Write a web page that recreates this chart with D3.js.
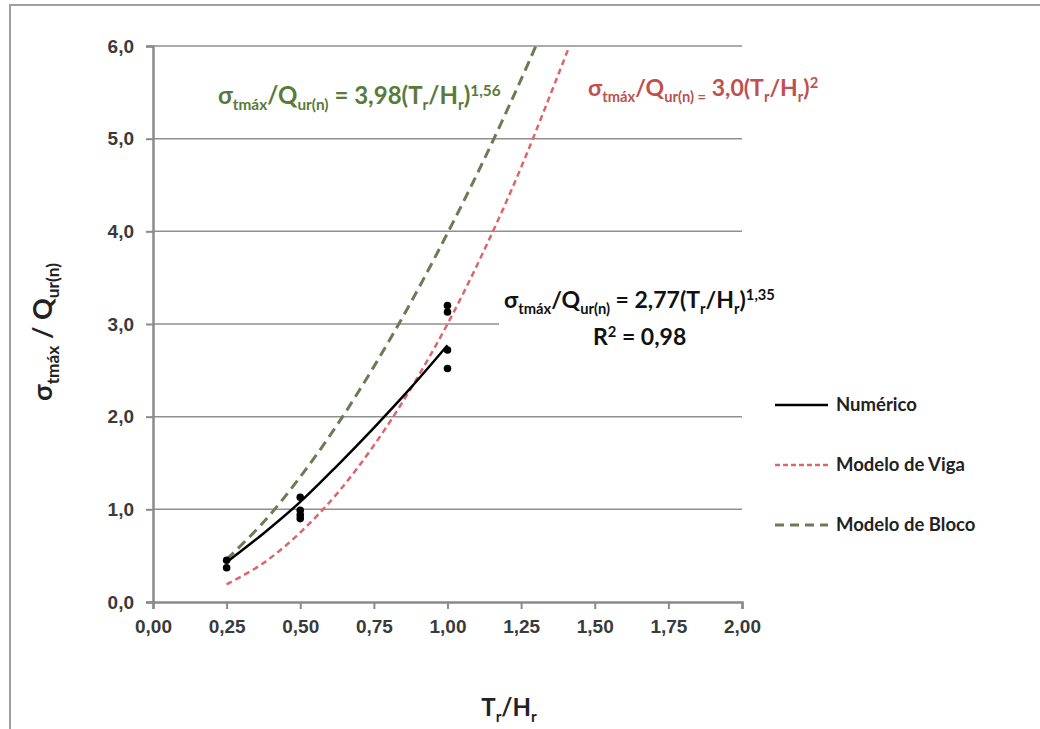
<!DOCTYPE html>
<html>
<head>
<meta charset="utf-8">
<script src="https://cdn.jsdelivr.net/npm/d3@7"></script>
<style>
  body { margin: 0; background: #fff; }
  svg { font-family: Lato, "Open Sans", sans-serif; }
</style>
</head>
<body>
<div id="chart"></div>
<script>
// valores
const xTicks = [0, 0.25, 0.5, 0.75, 1.0, 1.25, 1.5, 1.75, 2.0];
const yTicks = [0, 1, 2, 3, 4, 5, 6];

const pontosX = [0.25, 0.25, 0.5, 0.5, 0.5, 0.5, 1.0, 1.0, 1.0, 1.0];
const pontosY = [0.37, 0.45, 1.13, 0.99, 0.94, 0.90, 3.20, 3.13, 2.72, 2.52];

const numX = [0.25, 0.375, 0.5, 0.625, 0.75, 0.875, 1.0];
const numY = [0.43, 0.74, 1.08, 1.47, 1.88, 2.31, 2.77];

const vigaX = [0.25, 0.375, 0.5, 0.625, 0.75, 0.875, 1.0, 1.125, 1.25, 1.414];
const vigaY = [0.19, 0.42, 0.75, 1.17, 1.69, 2.30, 3.0, 3.80, 4.69, 6.0];

const blocoX = [0.25, 0.375, 0.5, 0.625, 0.75, 0.875, 1.0, 1.125, 1.25, 1.30];
const blocoY = [0.46, 0.86, 1.35, 1.91, 2.54, 3.23, 3.98, 4.78, 5.64, 6.0];

const legenda = ["Numérico", "Modelo de Viga", "Modelo de Bloco"];

const W = 1040, H = 729;
const margin = { left: 153, top: 46, right: 298, bottom: 127 };
const width = W - margin.left - margin.right,
      height = H - margin.top - margin.bottom;

const svg = d3.select("#chart").append("svg")
    .attr("width", W).attr("height", H);

// moldura
svg.append("rect")
    .attr("x", 10).attr("y", 5)
    .attr("width", W + 20).attr("height", H + 20)
    .attr("fill", "none").attr("stroke", "#a0a0a0").attr("stroke-width", 2);

const g = svg.append("g").attr("transform", `translate(${margin.left},${margin.top})`);

const x = d3.scaleLinear().domain([0, 2]).range([0, width]);
const y = d3.scaleLinear().domain([0, 6]).range([height, 0]);

// grade
g.selectAll(".grid").data(yTicks.filter(d => d > 0)).enter()
    .append("line")
    .attr("x1", 0).attr("x2", width)
    .attr("y1", d => y(d)).attr("y2", d => y(d))
    .attr("stroke", "#8f8f8f").attr("stroke-width", 1.5);

// eixos
const xAxis = g.append("g")
    .attr("transform", `translate(0,${height})`)
    .call(d3.axisBottom(x).tickValues(xTicks).tickSize(7).tickPadding(11)
        .tickFormat(d => d3.format(".2f")(d).replace(".", ",")));
const yAxis = g.append("g")
    .call(d3.axisLeft(y).tickValues(yTicks).tickSize(7).tickPadding(12)
        .tickFormat(d => d3.format(".1f")(d).replace(".", ",")));

[xAxis, yAxis].forEach(a => {
    a.select(".domain").attr("stroke", "#8a8a8a").attr("stroke-width", 2.5);
    a.selectAll(".tick line").attr("stroke", "#8a8a8a").attr("stroke-width", 2);
    a.selectAll(".tick text").attr("fill", "#3a3a3a")
        .style("font-size", "19px").style("font-weight", "bold");
});

// texto com índices: _{..} subscrito, ^{..} sobrescrito
function richText(sel, str, size) {
    const parts = str.match(/(_\{[^}]*\}|\^\{[^}]*\}|[^_^]+)/g);
    let shift = 0;
    parts.forEach(p => {
        let txt = p, off = 0, fs = size;
        if (p.startsWith("_{")) { txt = p.slice(2, -1); off = size * 0.25; fs = size * 0.64; }
        else if (p.startsWith("^{")) { txt = p.slice(2, -1); off = -size * 0.34; fs = size * 0.64; }
        sel.append("tspan")
            .attr("dy", off - shift)
            .style("font-size", fs + "px")
            .text(txt);
        shift = off;
    });
}

const line = d3.line().x(d => x(d[0])).y(d => y(d[1])).curve(d3.curveCatmullRom);

// curvas
g.append("path")
    .datum(vigaX.map((v, i) => [v, vigaY[i]]))
    .attr("d", line).attr("fill", "none")
    .attr("stroke", "#d9676c").attr("stroke-width", 2.5)
    .attr("stroke-dasharray", "6,4");

g.append("path")
    .datum(blocoX.map((v, i) => [v, blocoY[i]]))
    .attr("d", line).attr("fill", "none")
    .attr("stroke", "#6d7a55").attr("stroke-width", 3)
    .attr("stroke-dasharray", "10,6");

g.append("path")
    .datum(numX.map((v, i) => [v, numY[i]]))
    .attr("d", line).attr("fill", "none")
    .attr("stroke", "#000").attr("stroke-width", 2.5);

g.selectAll(".ponto").data(pontosX.map((v, i) => [v, pontosY[i]])).enter()
    .append("circle")
    .attr("cx", d => x(d[0])).attr("cy", d => y(d[1]))
    .attr("r", 3.8).attr("fill", "#000");

// equações
const eqBloco = svg.append("text")
    .attr("x", 218).attr("y", 104)
    .attr("fill", "#5a7a3a").style("font-weight", "bold");
richText(eqBloco, "σ_{tmáx}/Q_{ur(n)} = 3,98(T_{r}/H_{r})^{1,56}", 24);

const eqViga = svg.append("text")
    .attr("x", 588).attr("y", 96)
    .attr("fill", "#c0504d").style("font-weight", "bold");
richText(eqViga, "σ_{tmáx}/Q_{ur(n) =} 3,0(T_{r}/H_{r})^{2}", 23);

svg.append("rect")
    .attr("x", 499).attr("y", 282).attr("width", 290).attr("height", 72)
    .attr("fill", "#fff");

const eqNum = svg.append("text")
    .attr("x", 504).attr("y", 308)
    .attr("fill", "#111").style("font-weight", "bold");
richText(eqNum, "σ_{tmáx}/Q_{ur(n)} = 2,77(T_{r}/H_{r})^{1,35}", 23);

const r2 = svg.append("text")
    .attr("x", 593).attr("y", 345)
    .attr("fill", "#111").style("font-weight", "bold");
richText(r2, "R^{2} = 0,98", 23);

// títulos dos eixos
const yTitle = svg.append("text")
    .attr("transform", "translate(52,332) rotate(-90)")
    .attr("text-anchor", "middle")
    .attr("fill", "#222").style("font-weight", "bold");
richText(yTitle, "σ_{tmáx} / Q_{ur(n)}", 27);

const xTitle = svg.append("text")
    .attr("x", 509).attr("y", 716)
    .attr("text-anchor", "middle")
    .attr("fill", "#222").style("font-weight", "bold");
richText(xTitle, "T_{r}/H_{r}", 24);

// legenda
const legStyle = [
    { color: "#000", dash: null, w: 2.5 },
    { color: "#d9676c", dash: "5,3", w: 2.5 },
    { color: "#6d7a55", dash: "9,6", w: 3 }
];
const leg = svg.append("g").attr("transform", "translate(775,405)");
legenda.forEach((nome, i) => {
    const row = leg.append("g").attr("transform", `translate(0,${i * 60})`);
    row.append("line")
        .attr("x1", 0).attr("x2", 53).attr("y1", 0).attr("y2", 0)
        .attr("stroke", legStyle[i].color).attr("stroke-width", legStyle[i].w)
        .attr("stroke-dasharray", legStyle[i].dash);
    row.append("text")
        .attr("x", 61).attr("y", 0).attr("dy", "0.35em")
        .attr("fill", "#222")
        .style("font-size", "18.5px").style("font-weight", "bold")
        .text(nome);
});
</script>
</body>
</html>
